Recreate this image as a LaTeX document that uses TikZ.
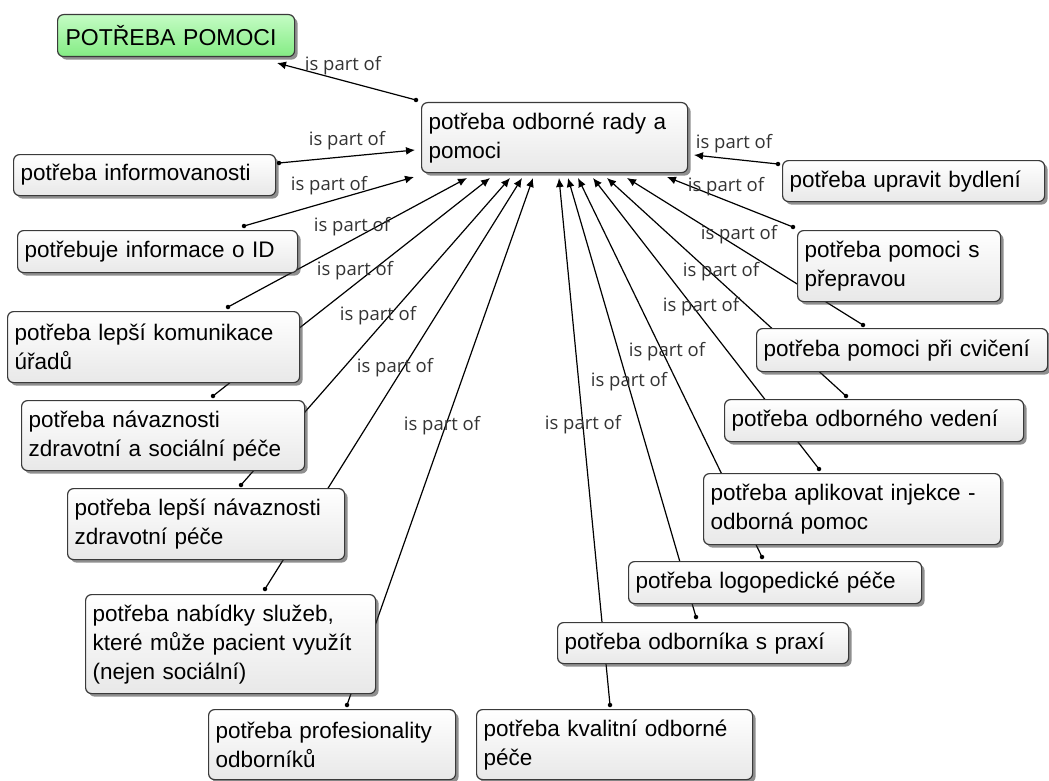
\documentclass[tikz,border=0pt]{standalone}
\usepackage{fontspec}
\setmainfont{Liberation Sans}
\newfontfamily\linkfont{Open Sans}
\usetikzlibrary{arrows.meta,shadows,backgrounds}
\definecolor{boxedge}{HTML}{3A3A3A}
\definecolor{linktext}{HTML}{333333}
\definecolor{greentop}{HTML}{C4FCC4}
\definecolor{greenbot}{HTML}{84EC84}
\tikzset{
  concept/.style={draw=boxedge, line width=1.2pt, rounded corners=6pt, anchor=north west,
    top color=white, bottom color=black!9,
    drop shadow={shadow xshift=3pt, shadow yshift=-3pt, opacity=0.55, fill=black!80},
    inner xsep=7pt, inner ysep=0pt, align=left, text=black,
    font=\fontsize{22.5}{29}\selectfont},
  rootconcept/.style={concept, top color=greentop, bottom color=greenbot, inner xsep=8pt,
    font=\fontsize{23}{29}\selectfont},
  linkword/.style={font=\linkfont\fontsize{18.5}{20}\selectfont, text=linktext, inner sep=0pt},
  conn/.style={line width=1.2pt, draw=black, -{Latex[length=9pt,width=8pt]}},
  enddot/.style={circle, fill=black, inner sep=0pt, minimum size=4.5pt}
}
\begin{document}
\begin{tikzpicture}[x=1pt,y=-1pt]
\useasboundingbox (0,0) rectangle (1049,781);

% concepts
\node[rootconcept, text width=221pt, minimum height=42pt] (root) at (57,14) {POTŘEBA POMOCI};
\node[concept, text width=252pt, minimum height=70pt] (center) at (421,102) {potřeba odborné rady a\\pomoci};
\node[concept, text width=248pt, minimum height=41pt] (info) at (13,154) {potřeba informovanosti};
\node[concept, text width=266pt, minimum height=42pt] (id) at (17,230) {potřebuje informace o ID};
\node[concept, text width=278pt, minimum height=71pt] (kom) at (7,311) {potřeba lepší komunikace\\úřadů};
\node[concept, text width=269pt, minimum height=70pt] (navzs) at (21,400) {potřeba návaznosti\\zdravotní a sociální péče};
\node[concept, text width=263pt, minimum height=71pt] (lepsinav) at (67,488) {potřeba lepší návaznosti\\zdravotní péče};
\node[concept, text width=276pt, minimum height=99pt] (nabidky) at (85,594) {potřeba nabídky služeb,\\které může pacient využít\\(nejen sociální)};
\node[concept, text width=233pt, minimum height=70pt] (profes) at (208,709) {potřeba profesionality\\odborníků};
\node[concept, text width=262pt, minimum height=70pt] (kvalitni) at (476,709) {potřeba kvalitní odborné\\péče};
\node[concept, text width=277pt, minimum height=41pt] (praxi) at (557,622) {potřeba odborníka s praxí};
\node[concept, text width=279pt, minimum height=42pt] (logoped) at (628,561) {potřeba logopedické péče};
\node[concept, text width=283pt, minimum height=71pt] (injekce) at (703,473) {potřeba aplikovat injekce -\\odborná pomoc};
\node[concept, text width=285pt, minimum height=42pt] (vedeni) at (724,399) {potřeba odborného vedení};
\node[concept, text width=277pt, minimum height=43pt] (cviceni) at (756,328) {potřeba pomoci při cvičení};
\node[concept, text width=189pt, minimum height=71pt] (prepravou) at (797,230) {potřeba pomoci s\\přepravou};
\node[concept, text width=248pt, minimum height=41pt] (bydleni) at (782,160) {potřeba upravit bydlení};

% connector ends: a dot at the source, an arrow tip at the target
\coordinate (center-s) at (416,100);   \coordinate (root-t) at (277,63);
\coordinate (info-s) at (279,163);     \coordinate (info-t) at (415,150);
\coordinate (id-s) at (244,226);       \coordinate (id-t) at (414,177);
\coordinate (kom-s) at (228,307);      \coordinate (kom-t) at (467,178);
\coordinate (navzs-s) at (213,396);    \coordinate (navzs-t) at (490,178);
\coordinate (lepsinav-s) at (241,485); \coordinate (lepsinav-t) at (510,178);
\coordinate (nabidky-s) at (265,589);  \coordinate (nabidky-t) at (522,178);
\coordinate (profes-s) at (347,705);   \coordinate (profes-t) at (533,178);
\coordinate (kvalitni-s) at (610,705); \coordinate (kvalitni-t) at (559,178);
\coordinate (praxi-s) at (696,617);    \coordinate (praxi-t) at (568,178);
\coordinate (logoped-s) at (762,557);  \coordinate (logoped-t) at (578,178);
\coordinate (injekce-s) at (819,469);  \coordinate (injekce-t) at (593,178);
\coordinate (vedeni-s) at (846,396);   \coordinate (vedeni-t) at (607,178);
\coordinate (cviceni-s) at (863,325);  \coordinate (cviceni-t) at (627,178);
\coordinate (prepravou-s) at (793,227);\coordinate (prepravou-t) at (667,177);
\coordinate (bydleni-s) at (778,164);  \coordinate (bydleni-t) at (694,155);

% connectors run behind the concept boxes
\begin{pgfonlayer}{background}
  \foreach \c/\t in {center/root, info/info, id/id, kom/kom, navzs/navzs, lepsinav/lepsinav,
      nabidky/nabidky, profes/profes, kvalitni/kvalitni, praxi/praxi, logoped/logoped,
      injekce/injekce, vedeni/vedeni, cviceni/cviceni, prepravou/prepravou, bydleni/bydleni}
    \draw[conn] (\c-s) -- (\t-t);
\end{pgfonlayer}

\foreach \c in {center, info, id, kom, navzs, lepsinav, nabidky, profes, kvalitni, praxi,
    logoped, injekce, vedeni, cviceni, prepravou, bydleni}
  \node[enddot] (\c-dot) at (\c-s) {};

% linking phrases
\node[linkword] (l-root) at (343,66) {is part of};
\node[linkword] (l-info) at (347,141) {is part of};
\node[linkword] (l-id) at (329,186) {is part of};
\node[linkword] (l-kom) at (352,227) {is part of};
\node[linkword] (l-navzs) at (355,271) {is part of};
\node[linkword] (l-lepsinav) at (378,316) {is part of};
\node[linkword] (l-nabidky) at (395,368) {is part of};
\node[linkword] (l-profes) at (442,426) {is part of};
\node[linkword] (l-kvalitni) at (583,425) {is part of};
\node[linkword] (l-praxi) at (629,382) {is part of};
\node[linkword] (l-logoped) at (667,352) {is part of};
\node[linkword] (l-injekce) at (701,307) {is part of};
\node[linkword] (l-vedeni) at (721,272) {is part of};
\node[linkword] (l-cviceni) at (739,235) {is part of};
\node[linkword] (l-prepravou) at (726,187) {is part of};
\node[linkword] (l-bydleni) at (734,144) {is part of};
\end{tikzpicture}
\end{document}
